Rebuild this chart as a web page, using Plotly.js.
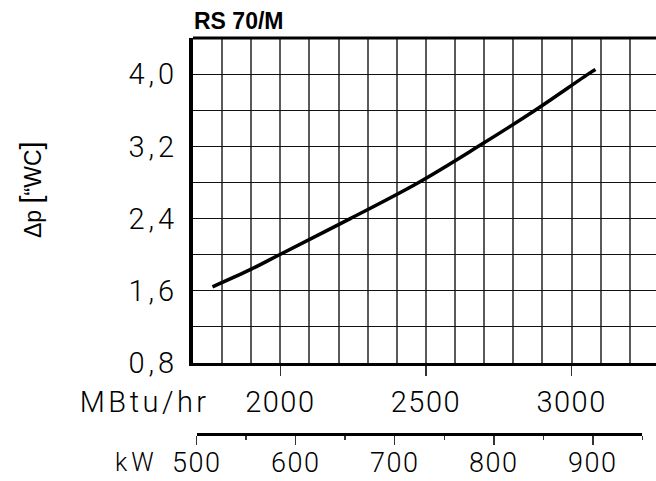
<!DOCTYPE html>
<html>
<head>
<meta charset="utf-8">
<script src="https://cdn.plot.ly/plotly-3.0.1.min.js"></script>
<style>
  html, body { margin: 0; padding: 0; background: #fff; }
  #chart { width: 656px; height: 481px; }
  .ytick text { letter-spacing: 4px; }
  .xtick text, .x2tick text { letter-spacing: 1.5px; }
</style>
</head>
<body>
<div id="chart"></div>
<script>
// Data
const chartTitle = 'RS 70/M';
const capacityMBtu = [1767, 1900, 1997, 2240, 2475, 2680, 2875, 3057, 3082];
const pressureWC   = [1.645, 1.84, 2.0, 2.4, 2.8, 3.2, 3.6, 4.0, 4.05];

const yTickVals = [0.8, 1.2, 1.6, 2.0, 2.4, 2.8, 3.2, 3.6, 4.0, 4.4];
const yTickText = ['0,8', '', '1,6', '', '2,4', '', '3,2', '', '4,0', ''];
const xTickVals = [2000, 2500, 3000];
const xTickText = ['2000', '2500', '3000'];
const kwTickVals = [500, 600, 700, 800, 900];
const kwTickText = ['500', '600', '700', '800', '900'];

const thinFont = { family: 'Roboto, DejaVu Sans, sans-serif', size: 29, color: '#000', weight: 300 };

const traces = [
  {
    x: capacityMBtu, y: pressureWC, type: 'scatter', mode: 'lines',
    line: { color: '#000', width: 3.5, shape: 'spline', smoothing: 1 },
    hoverinfo: 'skip', xaxis: 'x', yaxis: 'y'
  },
  {
    x: [kwTickVals[0]], y: [0], type: 'scatter', mode: 'markers',
    marker: { opacity: 0 }, hoverinfo: 'skip', xaxis: 'x2', yaxis: 'y2'
  }
];

const layout = {
  width: 656, height: 481,
  margin: { l: 193, r: 0, t: 38, b: 48 },
  paper_bgcolor: '#fff', plot_bgcolor: '#fff',
  showlegend: false,
  title: {
    text: '<b>' + chartTitle + '</b>',
    font: { family: 'Liberation Sans, Arial, sans-serif', size: 23, color: '#000' },
    xref: 'container', x: 194 / 656, xanchor: 'left',
    yref: 'container', y: 1 - 21 / 481, yanchor: 'middle'
  },
  xaxis: {
    domain: [0, 1], anchor: 'y', range: [1700, 3290],
    showline: true, linewidth: 3, linecolor: '#000',
    tickmode: 'array', tickvals: xTickVals, ticktext: xTickText,
    ticks: 'outside', ticklen: 10, tickwidth: 1.5, tickcolor: '#333',
    ticklabelstandoff: 1,
    tickfont: thinFont,
    showgrid: true, gridcolor: '#5a5a5a', gridwidth: 2,
    minor: { tick0: 1700, dtick: 100, showgrid: true, gridcolor: '#5a5a5a', gridwidth: 2, ticks: '' },
    zeroline: false, fixedrange: true
  },
  yaxis: {
    domain: [0.177, 1], anchor: 'x', range: [0.8, 4.4],
    showline: true, linewidth: 4, linecolor: '#000',
    tickmode: 'array', tickvals: yTickVals, ticktext: yTickText,
    ticks: 'outside', ticklen: 5, tickcolor: 'rgba(0,0,0,0)',
    tickfont: thinFont,
    showgrid: true, gridcolor: '#111', gridwidth: 1,
    zeroline: false, fixedrange: true
  },
  xaxis2: {
    domain: [0.008, 0.9704], anchor: 'y2', range: [500, 950],
    showline: true, linewidth: 3, linecolor: '#000',
    tickmode: 'array', tickvals: kwTickVals, ticktext: kwTickText,
    ticks: 'outside', ticklen: 9, tickwidth: 1.5, tickcolor: '#333',
    ticklabelstandoff: -5,
    tickfont: { family: 'Roboto, DejaVu Sans, sans-serif', size: 27, color: '#000', weight: 300 },
    minor: { tick0: 500, dtick: 50, ticks: 'outside', ticklen: 4, tickwidth: 1.5, tickcolor: '#333', showgrid: false },
    showgrid: false, zeroline: false, fixedrange: true
  },
  yaxis2: {
    domain: [0, 0.01], anchor: 'x2', visible: false, range: [0, 1], fixedrange: true
  },
  shapes: [
    { type: 'line', xref: 'paper', yref: 'paper', x0: 0, x1: 1, y0: 1, y1: 1,
      line: { color: '#000', width: 3 } }
  ],
  annotations: [
    {
      text: 'Δp <span style="font-size:29px">[</span>“WC<span style="font-size:29px">]</span>',
      xref: 'paper', yref: 'paper', x: (31 - 193) / 463, y: (433 - 190) / 395,
      xanchor: 'center', yanchor: 'middle', textangle: -90, showarrow: false,
      font: { family: 'Liberation Sans, Arial, sans-serif', size: 23, color: '#000' }
    },
    {
      text: 'MBtu/hr',
      xref: 'paper', yref: 'paper', x: (200 - 193) / 463, y: (433 - 402) / 395,
      xanchor: 'right', yanchor: 'middle', showarrow: false, font: thinFont
    },
    {
      text: 'kW',
      xref: 'paper', yref: 'paper', x: (156 - 193) / 463, y: (433 - 462) / 395,
      xanchor: 'right', yanchor: 'middle', showarrow: false,
      font: { family: 'Roboto, DejaVu Sans, sans-serif', size: 25, color: '#000', weight: 300 }
    }
  ]
};

Plotly.newPlot('chart', traces, layout, { staticPlot: true, displayModeBar: false }).then(function () {
  const anns = document.querySelectorAll('.annotation-text');
  anns.forEach(function (t) {
    if (t.textContent === 'MBtu/hr') t.style.letterSpacing = '3.5px';
    if (t.textContent === 'kW') t.style.letterSpacing = '4px';
  });
});
</script>
</body>
</html>
